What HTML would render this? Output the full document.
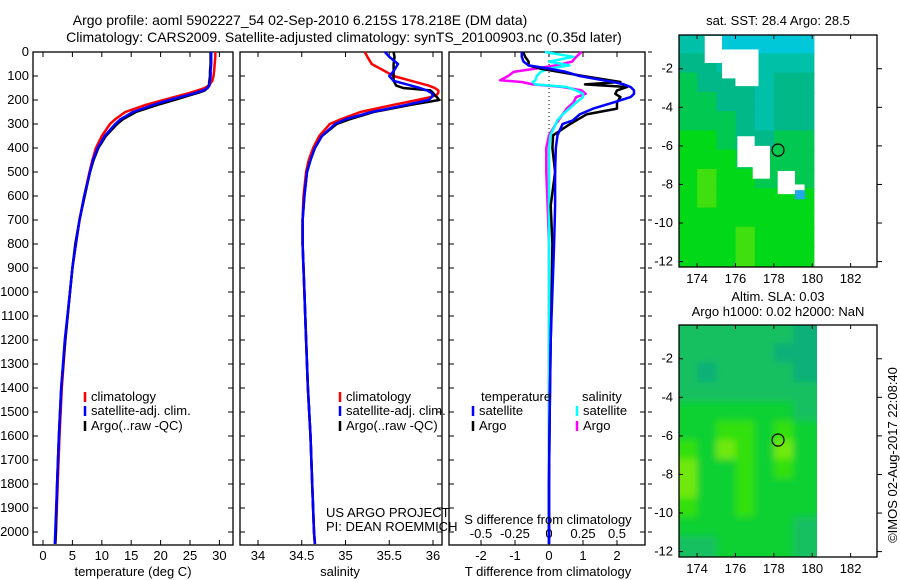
<!DOCTYPE html>
<html><head><meta charset="utf-8">
<style>
html,body{margin:0;padding:0;background:#fff;}
svg{display:block;font-family:"Liberation Sans",sans-serif;}
text{font-size:13px;fill:#000;}
</style></head>
<body>
<svg id="chart" width="900" height="580" viewBox="0 0 900 580">
<text x="300" y="25" text-anchor="middle" style="font-size:14px">Argo profile: aoml 5902227_54 02-Sep-2010 6.215S 178.218E (DM data)</text>
<text x="344" y="42" text-anchor="middle" style="font-size:14px">Climatology: CARS2009. Satellite-adjusted climatology: synTS_20100903.nc (0.35d later)</text>
<g id="g"></g>
</svg>
<script>
// ---- profile data ----
const depths=[0,20,50,80,100,120,140,150,160,170,180,190,200,220,250,280,300,350,400,450,500,600,700,800,900,1000,1200,1400,1600,1800,2000,2050];
const tempClim=[29.3,29.3,29.2,29.1,29.0,28.8,28.2,27.5,26.3,25.0,23.5,22,20.5,17.5,14.0,12.3,11.4,10.0,9.0,8.4,7.9,7.0,6.2,5.6,5.0,4.6,3.8,3.2,2.8,2.5,2.2,2.1];
const tempSat=[28.6,28.6,28.6,28.5,28.5,28.4,28.3,28.0,27.2,26.0,24.6,23.0,21.5,18.8,15.3,13.2,12.3,10.5,9.3,8.5,8.0,7.0,6.2,5.6,5.0,4.6,3.7,3.1,2.7,2.4,2.1,2.0];
const tempArgo=[28.5,28.5,28.5,28.4,28.4,28.3,28.2,28.0,27.5,26.4,25.0,23.7,22.3,19.5,15.8,13.6,12.6,10.7,9.4,8.6,8.0,7.1,6.2,5.5,5.0,4.6,3.8,3.1,2.7,2.4,2.2,2.1];
const salClim=[35.22,35.25,35.3,35.45,35.55,35.75,35.95,36.02,36.06,36.06,36.04,35.95,35.82,35.55,35.17,34.95,34.82,34.7,34.63,34.58,34.55,34.52,34.51,34.51,34.52,34.53,34.55,34.57,34.6,34.62,34.64,34.65];
const salSat=[35.45,35.5,35.6,35.55,35.5,35.55,35.75,35.85,35.93,35.98,36.0,35.98,35.95,35.7,35.3,35.0,34.88,34.73,34.65,34.6,34.56,34.53,34.51,34.51,34.52,34.53,34.55,34.57,34.6,34.62,34.64,34.65];
const salArgo=[35.55,35.56,35.55,35.55,35.55,35.55,35.58,35.66,35.97,36.0,36.02,36.05,36.07,35.75,35.32,35.05,34.9,34.73,34.65,34.6,34.56,34.53,34.51,34.51,34.52,34.53,34.55,34.57,34.6,34.62,34.64,34.65];
const diffDepths=[0,20,40,56,69,83,100,118,125,135,146,160,174,188,210,236,260,285,300,347,400,500,640,800,1000,1200,1500,1800,2050];
const tDiffArgo=[-0.76,-0.7,-0.6,-0.6,-0.26,0.3,1.0,1.8,2.1,1.06,2.3,2.0,1.95,2.1,2.0,2.0,1.1,0.8,0.62,0.12,0.1,0.18,0.05,0.1,0.08,0.05,0.02,0.0,0.0];
const tDiffSat=[-0.8,-0.8,-0.75,-0.6,0.0,0.5,0.9,1.6,1.9,2.2,2.4,2.5,2.5,2.4,1.9,1.3,0.9,0.7,0.4,0.25,0.2,0.18,0.18,0.15,0.1,0.05,0.02,0.0,0.0];
const sDiffArgo=[0.24,0.2,0.17,0.05,-0.1,-0.26,-0.3,-0.36,-0.2,-0.12,0.1,0.24,0.27,0.2,0.18,0.13,0.1,0.07,0.05,0.0,-0.02,-0.02,-0.01,0,0,0,0,0,0];
const sDiffSat=[-0.03,0.18,0.0,0.15,0.0,-0.06,-0.09,-0.1,-0.12,-0.1,0.13,0.2,0.25,0.25,0.2,0.15,0.1,0.06,0.05,0.01,0.0,0.0,0,0,0,0,0,0,0];
const depthTicks=[0,100,200,300,400,500,600,700,800,900,1000,1100,1200,1300,1400,1500,1600,1700,1800,1900,2000];
const tempTicks=[0,5,10,15,20,25,30];
const salTicks=["34","34.5","35","35.5","36"];
const tdTicks=[-2,-1,0,1,2];
const sdTicks=["-0.5","-0.25","0","0.25","0.5"];
// ---- map data (1° cells, rows from north to south) ----
const sstGrid=[
[1,1,0,0,0,0,0],[2,2,1,1,1,1,1],[3,2,2,2,1,2,2],[3,3,2,2,1,2,2],[3,3,3,2,1,2,2],[4,4,3,2,2,3,3],
[4,4,4,3,3,3,3],[4,5,4,4,3,3,3],[4,5,4,4,4,4,4],[4,4,4,4,4,4,4],[4,4,4,5,4,4,4],[4,4,4,5,4,4,4]];
const slaGrid=[
[1,1,1,1,1,1,0],[1,1,1,1,1,0,0],[1,0,1,1,1,1,0],[1,1,1,1,1,1,1],[2,2,2,2,2,2,1],[2,2,3,3,2,3,2],
[3,2,4,3,2,4,2],[4,2,2,3,2,3,2],[4,2,2,3,2,2,2],[3,2,2,3,2,2,2],[2,2,2,2,2,2,1],[1,1,2,2,2,2,1]];
const sstPalette=["#00c8d8","#00c0a8","#00b888","#00c850","#00d818","#40e010"];
const slaPalette=["#10b078","#14c060","#10d030","#30e010","#70e810"];
const lonTicks=[174,176,178,180,182];
const latTicks=[-2,-4,-6,-8,-10,-12];
const cloudRects=[[174.4,-0.3,175.3,-1.7],[175.3,-1.0,176.4,-2.5],[176.0,-1.0,177.2,-2.9],[176.1,-5.5,177.0,-7.1],[176.9,-6.0,177.8,-7.7],[178.2,-7.3,179.1,-8.5],[179.0,-8.0,179.6,-8.3]];
const argoLon=178.218, argoLat=-6.215;

const NS='http://www.w3.org/2000/svg';
const G=document.getElementById('g');
function mk(tag,attrs,parent){const e=document.createElementNS(NS,tag);for(const k in attrs)e.setAttribute(k,attrs[k]);(parent||G).appendChild(e);return e;}
function txt(x,y,s,anchor,parent){const t=mk('text',{x:x,y:y,'text-anchor':anchor||'middle'},parent);t.textContent=s;return t;}

const Y=d=>52+d*0.24;
const TOP=52,BOT=545;
const Xt=v=>43+v*5.88;
const Xs=v=>258+(v-34)*87.5;
const Xtd=v=>549+v*34;
const Xsd=v=>549+v*136;

function panel(x0,x1,name){
  const r=mk('rect',{x:x0,y:TOP,width:x1-x0,height:BOT-TOP,fill:'none',stroke:'#000','stroke-width':1.3});
  
  
  depthTicks.forEach(d=>{mk('line',{x1:x0,x2:x0+5,y1:Y(d),y2:Y(d),stroke:'#000'});mk('line',{x1:x1,x2:x1-5,y1:Y(d),y2:Y(d),stroke:'#000'});});
}
panel(33,233,'temperature-panel');
panel(240,442,'salinity-panel');
panel(449,645,'difference-panel');
depthTicks.forEach(d=>{const t=txt(29,Y(d)+4,String(d),'end');});
depthTicks.forEach(d=>{mk('line',{x1:648,x2:652,y1:Y(d),y2:Y(d),stroke:'#000'});});

function xTicks(vals,fx,y,labelY){vals.forEach(v=>{const x=fx(parseFloat(v));mk('line',{x1:x,x2:x,y1:BOT,y2:BOT-5,stroke:'#000'});mk('line',{x1:x,x2:x,y1:TOP,y2:TOP+5,stroke:'#000'});const t=txt(x,labelY,String(v));});}
xTicks(tempTicks,Xt,0,560);
xTicks(salTicks,Xs,0,560);
xTicks(tdTicks,Xtd,0,560);
sdTicks.forEach(v=>{const t=txt(Xsd(parseFloat(v)),538,v);});

function line(xs,ds,fx,color,name,w){
  const pts=xs.map((v,i)=>fx(v).toFixed(1)+','+Y(ds[i]).toFixed(1)).join(' ');
  const p=mk('polyline',{points:pts,fill:'none',stroke:color,'stroke-width':w||2.5,'stroke-linejoin':'round'});
  
  
}
line(tempClim,depths,Xt,'#f00','temp-climatology-line');
line(tempArgo,depths,Xt,'#000','temp-argo-line');
line(tempSat,depths,Xt,'#00f','temp-satellite-line');
line(salClim,depths,Xs,'#f00','sal-climatology-line');
line(salArgo,depths,Xs,'#000','sal-argo-line');
line(salSat,depths,Xs,'#00f','sal-satellite-line');
mk('line',{x1:549,x2:549,y1:TOP,y2:BOT,stroke:'#000','stroke-dasharray':'1,3'});
line(sDiffArgo,diffDepths,Xsd,'#f0f','sal-diff-argo-line');
line(sDiffSat,diffDepths,Xsd,'#0ff','sal-diff-satellite-line');
line(tDiffArgo,diffDepths,Xtd,'#000','temp-diff-argo-line');
line(tDiffSat,diffDepths,Xtd,'#00f','temp-diff-satellite-line');

function legend(x,y,color,label){mk('line',{x1:x,x2:x,y1:y-9,y2:y+1,stroke:color,'stroke-width':2.5});const t=txt(x+6,y,label,'start');}
[[85,401,'#f00','climatology'],[85,415,'#00f','satellite-adj. clim.'],[85,430,'#000','Argo(..raw -QC)'],
 [340,401,'#f00','climatology'],[340,415,'#00f','satellite-adj. clim.'],[340,430,'#000','Argo(..raw -QC)'],
 [473,415,'#00f','satellite'],[473,430,'#000','Argo'],[577,415,'#0ff','satellite'],[577,430,'#f0f','Argo']].forEach(a=>legend(...a));
txt(481,401,'temperature','start');txt(582,401,'salinity','start');
txt(326,517,'US ARGO PROJECT','start');txt(326,531,'PI: DEAN ROEMMICH','start');
txt(548,524,'S difference from climatology');
txt(133,576,'temperature (deg C)');txt(340,576,'salinity');txt(548,576,'T difference from climatology');

// ---- maps ----
function map(top,bot,grid,pal,name,blur){
  const L=679,R=877;
  const lat2y=la=>top+(-0.25-la)*((bot-top)/12.03);
  const lon2x=lo=>L+(lo-173.06)*19.2;
  const grp=mk('g',{});
  
  
  const cid='c'+top;
  const cp=mk('clipPath',{id:cid},grp);mk('rect',{x:L,y:top,width:lon2x(180.25)-L,height:bot-top},cp);
  const cg=mk('g',{'clip-path':'url(#'+cid+')'},grp);
  if(blur) mk('rect',{x:L-20,y:top-20,width:200,height:bot-top+40,fill:pal[1]},cg);
  const ig=mk('g',blur?{filter:'url(#bl)'}:{},cg);
  grid.forEach((row,i)=>row.forEach((v,j)=>{
    let x=lon2x(173.06+j)-1,y=lat2y(-0.25-i)-1,w=21.2,h=21.4;
    if(blur){if(j===0){x-=20;w+=20;} if(j===row.length-1){w+=25;} if(i===0){y-=20;h+=20;} if(i===grid.length-1){h+=20;}}
    const c=mk('rect',{x:x,y:y,width:w,height:h,fill:pal[v]},ig);
    
    
  }));
  if(!blur){cloudRects.forEach(r=>mk('rect',{x:lon2x(r[0]),y:lat2y(r[1]),width:lon2x(r[2])-lon2x(r[0]),height:lat2y(r[3])-lat2y(r[1]),fill:'#fff'},cg));
    mk('rect',{x:lon2x(179.1),y:lat2y(-8.3),width:10,height:9,fill:'#20a8e8'},cg);}
  mk('rect',{x:L,y:top,width:R-L,height:bot-top,fill:'none',stroke:'#000','stroke-width':1.3},grp);
  lonTicks.forEach(lo=>{const x=lon2x(lo);mk('line',{x1:x,x2:x,y1:top,y2:top+4,stroke:'#000'},grp);mk('line',{x1:x,x2:x,y1:bot,y2:bot-4,stroke:'#000'},grp);txt(x,bot+16,String(lo),'middle',grp);});
  latTicks.forEach(la=>{const y=lat2y(la);mk('line',{x1:R,x2:R+5,y1:y,y2:y,stroke:'#000'},grp);mk('line',{x1:L,x2:L+4,y1:y,y2:y,stroke:'#000'},grp);txt(L-6,y+4,String(la),'end',grp);});
  const c=mk('circle',{cx:lon2x(argoLon),cy:lat2y(argoLat),r:6,fill:'none',stroke:'#000','stroke-width':1.2},grp);
  
  
}
const defs=mk('defs',{});const f=mk('filter',{id:'bl',x:'-0.2',y:'-0.2',width:'1.4',height:'1.4'},defs);mk('feGaussianBlur',{stdDeviation:3.5},f);
map(35,267,sstGrid,sstPalette,'sst-map',false);
map(325,557,slaGrid,slaPalette,'sla-map',true);
txt(778,25,'sat. SST: 28.4 Argo: 28.5');
txt(778,301,'Altim. SLA: 0.03');
txt(778,316,'Argo h1000: 0.02 h2000: NaN');
const cr=txt(0,0,'©IMOS 02-Aug-2017 22:08:40');
cr.setAttribute('transform','translate(897,455) rotate(-90)');


</script>
</body></html>
